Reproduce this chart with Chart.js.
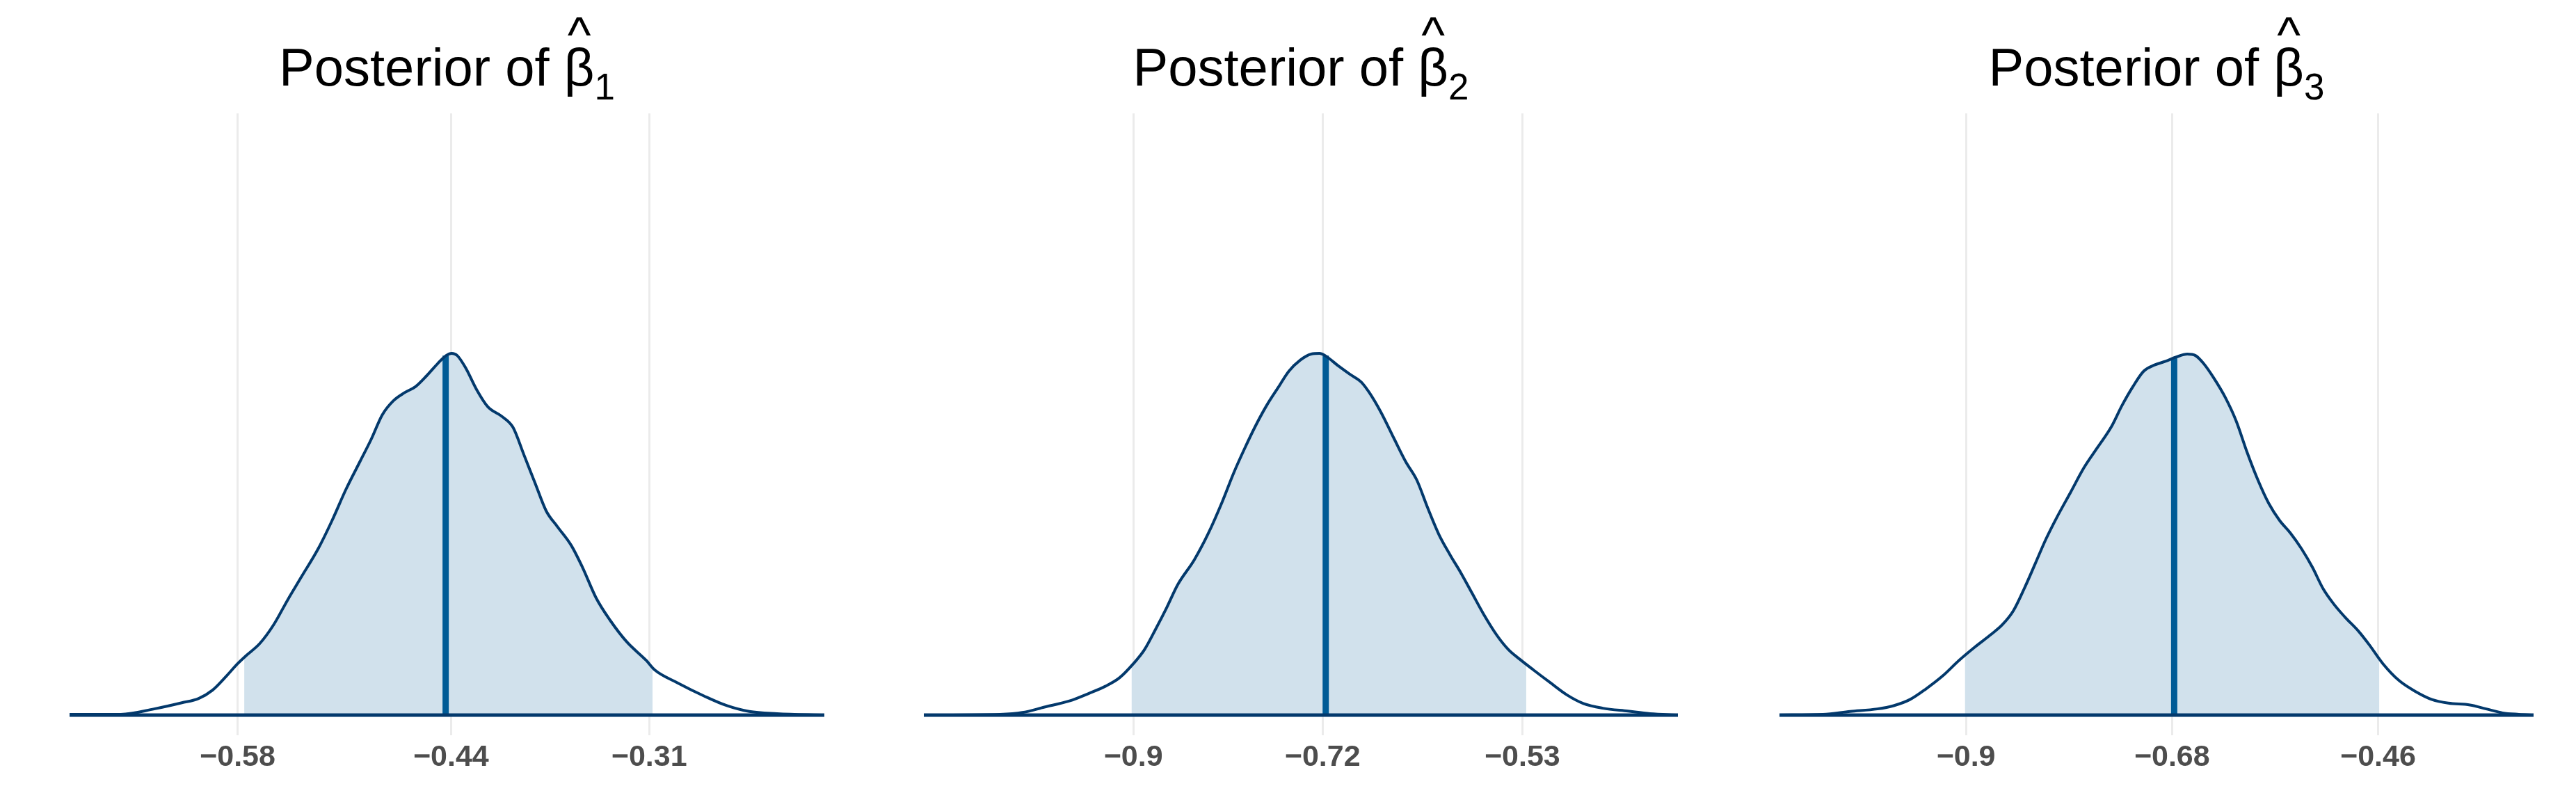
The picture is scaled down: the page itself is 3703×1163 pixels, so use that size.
<!DOCTYPE html>
<html><head><meta charset="utf-8">
<script src="https://cdn.jsdelivr.net/npm/chart.js@4.4.1/dist/chart.umd.min.js"></script>
<style>
html,body{margin:0;padding:0;background:#fff;width:3703px;height:1163px;overflow:hidden}
.cell{position:absolute;top:0;height:1163px}
canvas{display:block}
</style></head><body>
<script>
// ---------- data ----------
const titleText = 'Posterior of ';
const titleSymbol = 'β';
const titleHat = '^';
const titleSubs = ['1', '2', '3'];

// Panel 1: posterior density of beta_1 (relative height, peak = 1)
const beta1X = [-0.6902,-0.6566,-0.6347,-0.6165,-0.6055,-0.5964,-0.5873,-0.5800,-0.5745,-0.5654,-0.5563,-0.5472,-0.5380,-0.5271,-0.5180,-0.5089,-0.4997,-0.4924,-0.4851,-0.4778,-0.4706,-0.4633,-0.4560,-0.4487,-0.4432,-0.4395,-0.4359,-0.4304,-0.4231,-0.4158,-0.4067,-0.3994,-0.3921,-0.3848,-0.3775,-0.3702,-0.3611,-0.3538,-0.3447,-0.3356,-0.3246,-0.3119,-0.3064,-0.2918,-0.2736,-0.2590,-0.2444,-0.2261,-0.1951];
const beta1Y = [0.002,0.002,0.017,0.034,0.046,0.069,0.108,0.142,0.164,0.198,0.250,0.318,0.383,0.460,0.538,0.624,0.701,0.762,0.830,0.869,0.891,0.908,0.938,0.972,0.994,1.000,0.994,0.960,0.899,0.852,0.826,0.796,0.719,0.641,0.564,0.521,0.469,0.409,0.323,0.262,0.202,0.151,0.125,0.090,0.052,0.026,0.010,0.004,0.000];
const beta1Ticks = [-0.58, -0.44, -0.31];
const beta1TickLabels = ['−0.58', '−0.44', '−0.31'];
const beta1Interval = [-0.5756, -0.3078];
const beta1Median = -0.4435;
const beta1MedianHeight = 0.994;

// Panel 2: beta_2
const beta2X = [-1.0993,-1.0268,-1.0057,-0.9846,-0.9608,-0.9423,-0.9264,-0.9132,-0.9000,-0.8894,-0.8789,-0.8683,-0.8577,-0.8419,-0.8286,-0.8154,-0.8049,-0.7943,-0.7837,-0.7732,-0.7626,-0.7520,-0.7414,-0.7309,-0.7229,-0.7177,-0.7044,-0.6939,-0.6833,-0.6754,-0.6648,-0.6516,-0.6410,-0.6304,-0.6199,-0.6093,-0.5987,-0.5882,-0.5776,-0.5670,-0.5538,-0.5432,-0.5327,-0.5195,-0.5036,-0.4877,-0.4719,-0.4534,-0.4296,-0.4085,-0.3820];
const beta2Y = [0.000,0.002,0.007,0.022,0.039,0.060,0.080,0.103,0.142,0.181,0.237,0.297,0.361,0.430,0.503,0.590,0.667,0.736,0.800,0.856,0.904,0.951,0.981,0.998,1.000,0.994,0.964,0.942,0.921,0.891,0.839,0.762,0.701,0.650,0.572,0.499,0.443,0.392,0.336,0.280,0.219,0.181,0.155,0.125,0.090,0.056,0.032,0.019,0.011,0.004,0.000];
const beta2Ticks = [-0.9, -0.72, -0.53];
const beta2TickLabels = ['−0.9', '−0.72', '−0.53'];
const beta2Interval = [-0.9016, -0.5263];
const beta2Median = -0.7170;
const beta2MedianHeight = 0.994;

// Panel 3: beta_3
const beta3X = [-1.0991,-1.0527,-1.0236,-0.9946,-0.9772,-0.9598,-0.9424,-0.9250,-0.9075,-0.8901,-0.8727,-0.8611,-0.8495,-0.8379,-0.8263,-0.8147,-0.8031,-0.7885,-0.7740,-0.7595,-0.7450,-0.7334,-0.7218,-0.7102,-0.6986,-0.6870,-0.6754,-0.6637,-0.6550,-0.6463,-0.6347,-0.6231,-0.6115,-0.5999,-0.5883,-0.5767,-0.5651,-0.5535,-0.5418,-0.5302,-0.5186,-0.5070,-0.4954,-0.4809,-0.4693,-0.4548,-0.4374,-0.4199,-0.4025,-0.3851,-0.3619,-0.3445,-0.3271,-0.3097,-0.2940];
const beta3Y = [0.000,0.002,0.010,0.017,0.026,0.043,0.073,0.108,0.151,0.189,0.224,0.250,0.288,0.349,0.417,0.486,0.546,0.615,0.684,0.740,0.796,0.856,0.908,0.951,0.968,0.978,0.990,0.998,0.994,0.972,0.929,0.878,0.813,0.727,0.650,0.585,0.538,0.503,0.460,0.409,0.349,0.306,0.271,0.232,0.194,0.142,0.095,0.065,0.043,0.033,0.028,0.017,0.006,0.002,0.000];
const beta3Ticks = [-0.9, -0.68, -0.46];
const beta3TickLabels = ['−0.9', '−0.68', '−0.46'];
const beta3Interval = [-0.9010, -0.4588];
const beta3Median = -0.6777;
const beta3MedianHeight = 0.987;

// ---------- layout / style ----------
const cells = [
  {left: 0,    width: 1234, padL: 100, padR: 49},
  {left: 1234, width: 1234, padL: 94,  padR: 56},
  {left: 2468, width: 1235, padL: 90,  padR: 61}
];
const H = 1163;
const PLOT_TOP = 163, PLOT_BOTTOM = 1057;
const Y_MIN = -0.0558, Y_MAX = 1.6635;
const FONT = '"Liberation Sans", Arial, Helvetica, sans-serif';

const shadeClip = {
  id: 'shadeClip',
  beforeDatasetsDraw(chart, args, opts) {
    const xs = chart.scales.x, a = chart.chartArea, ctx = chart.ctx;
    const l = xs.getPixelForValue(opts.lo), r = xs.getPixelForValue(opts.hi);
    ctx.save();
    ctx.beginPath();
    ctx.rect(l, a.top, r - l, a.bottom - a.top);
    ctx.clip();
  },
  afterDatasetDraw(chart, args) {
    if (args.index === 0) chart.ctx.restore();
  }
};

const hatTitle = {
  id: 'hatTitle',
  afterDraw(chart, args, opts) {
    const ctx = chart.ctx, a = chart.chartArea;
    const cx = (a.left + a.right) / 2;
    const big = '76px ' + FONT, small = '53px ' + FONT;
    ctx.save();
    ctx.fillStyle = '#000000';
    ctx.textBaseline = 'alphabetic';
    ctx.textAlign = 'left';
    ctx.font = big;
    const w1 = ctx.measureText(opts.text).width;
    const w2 = ctx.measureText(opts.symbol).width;
    ctx.font = small;
    const w3 = ctx.measureText(opts.sub).width;
    let x = cx - (w1 + w2 + w3) / 2;
    ctx.font = big;
    ctx.fillText(opts.text, x, 123);
    x += w1;
    const bx = x + w2 / 2;
    ctx.fillText(opts.symbol, x, 123);
    x += w2;
    ctx.font = small;
    ctx.fillText(opts.sub, x, 143);
    ctx.font = '72px ' + FONT;
    ctx.textAlign = 'center';
    const m = ctx.measureText(opts.hat);
    ctx.fillText(opts.hat, bx, 25 + m.actualBoundingBoxAscent);
    ctx.restore();
  }
};

function toPoints(xs, ys) { return xs.map((x, i) => ({x: x, y: ys[i]})); }

function makePanel(i, xs, ys, ticks, labels, interval, median, medianH) {
  const c = cells[i];
  const div = document.createElement('div');
  div.className = 'cell';
  div.style.left = c.left + 'px';
  div.style.width = c.width + 'px';
  const cv = document.createElement('canvas');
  cv.width = c.width; cv.height = H;
  cv.style.width = c.width + 'px'; cv.style.height = H + 'px';
  div.appendChild(cv);
  document.body.appendChild(div);
  const pts = toPoints(xs, ys);
  const n = xs.length;
  new Chart(cv, {
    type: 'line',
    data: {
      datasets: [
        {data: pts, fill: 'origin', backgroundColor: '#d1e1ec', borderColor: 'rgba(0,0,0,0)', borderWidth: 0,
         pointRadius: 0, order: 3, tension: 0.4, cubicInterpolationMode: 'monotone'},
        {data: [{x: median, y: 0}, {x: median, y: medianH}], borderColor: '#005b96', borderWidth: 9,
         pointRadius: 0, fill: false, order: 2, tension: 0, borderCapStyle: 'butt'},
        {data: pts, borderColor: '#03396c', borderWidth: 4, fill: false, pointRadius: 0, order: 1,
         tension: 0.4, cubicInterpolationMode: 'monotone', borderJoinStyle: 'round', borderCapStyle: 'round'},
        {data: [{x: xs[0], y: 0}, {x: xs[n - 1], y: 0}], borderColor: '#03396c', borderWidth: 5,
         pointRadius: 0, fill: false, order: 0, tension: 0, borderCapStyle: 'round'}
      ]
    },
    options: {
      responsive: false, animation: false, devicePixelRatio: 1,
      events: [],
      layout: {padding: {left: c.padL, right: c.padR, top: PLOT_TOP, bottom: 0}},
      plugins: {
        legend: {display: false}, tooltip: {enabled: false}, title: {display: false},
        filler: {drawTime: 'beforeDatasetDraw'},
        shadeClip: {lo: interval[0], hi: interval[1]},
        hatTitle: {text: titleText, symbol: titleSymbol, hat: titleHat, sub: titleSubs[i]}
      },
      scales: {
        x: {
          type: 'linear', min: xs[0], max: xs[n - 1],
          afterBuildTicks: s => { s.ticks = ticks.map(v => ({value: v})); },
          afterFit: s => { s.height = H - PLOT_BOTTOM; },
          ticks: {
            callback: (v, idx) => labels[idx],
            font: {family: FONT, size: 43, weight: 'bold'},
            color: '#4d4d4d', padding: 6, maxRotation: 0, autoSkip: false
          },
          grid: {color: '#ebebeb', lineWidth: 3, drawTicks: false},
          border: {display: false}
        },
        y: {type: 'linear', display: false, min: Y_MIN, max: Y_MAX}
      }
    },
    plugins: [shadeClip, hatTitle]
  });
}

makePanel(0, beta1X, beta1Y, beta1Ticks, beta1TickLabels, beta1Interval, beta1Median, beta1MedianHeight);
makePanel(1, beta2X, beta2Y, beta2Ticks, beta2TickLabels, beta2Interval, beta2Median, beta2MedianHeight);
makePanel(2, beta3X, beta3Y, beta3Ticks, beta3TickLabels, beta3Interval, beta3Median, beta3MedianHeight);
</script>
</body></html>
